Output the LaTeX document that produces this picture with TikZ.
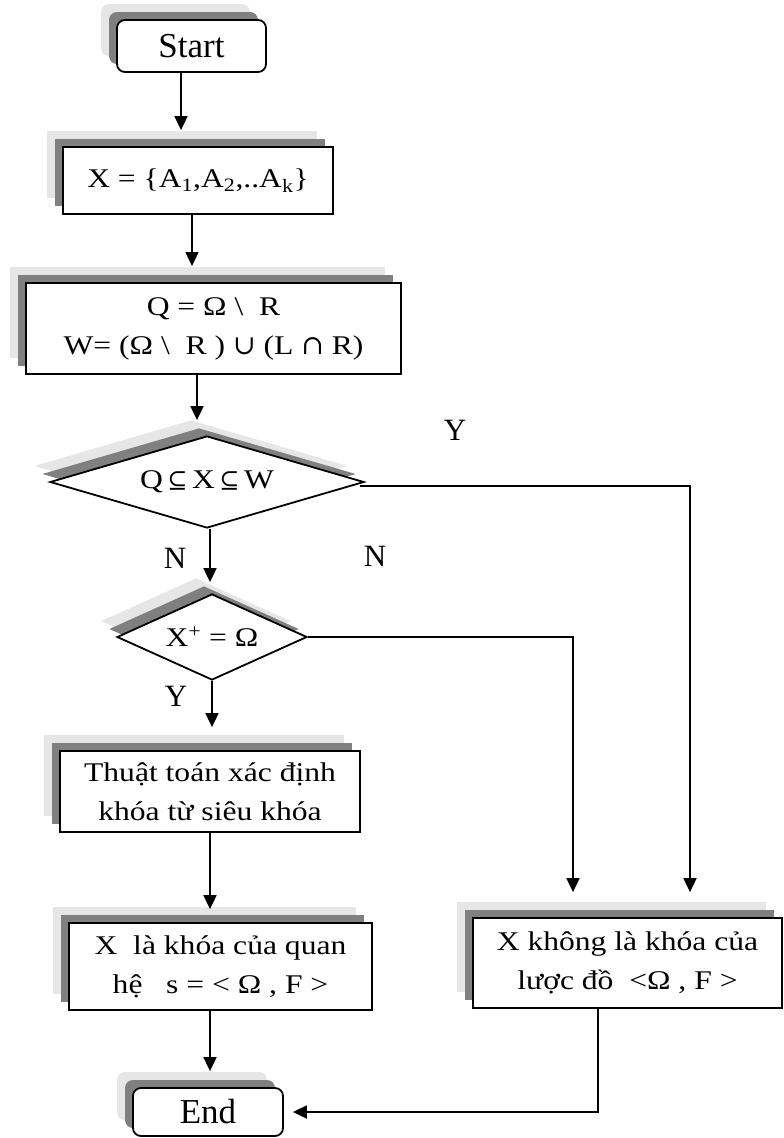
\documentclass[tikz,border=0pt]{standalone}
\usepackage{fontspec}
\setmainfont{Liberation Serif}[FakeStretch=1.17]
\newfontfamily\plainf{Liberation Serif}
\newfontfamily\symf{DejaVu Serif}
\usetikzlibrary{arrows.meta,shapes.geometric,shadows}
\definecolor{shlight}{HTML}{E6E6E6}
\definecolor{shdark}{HTML}{808080}
\newcommand{\sbs}{{\symf\fontsize{24}{30}\selectfont ⊆}}

\begin{document}
\begin{tikzpicture}[x=1pt,y=-1pt,line width=1.8pt,
  >={Triangle[length=14pt,width=13pt]},
  font=\fontsize{27}{39}\selectfont,
  sh/.style={copy shadow={shadow xshift=-16pt,shadow yshift=16pt,fill=shlight,draw=none},
             copy shadow={shadow xshift=-8pt,shadow yshift=8pt,fill=shdark,draw=none}},
  box/.style={draw,fill=white,sh,inner sep=0pt,align=center},
  term/.style={box,rounded corners=8pt,font=\plainf\fontsize{35}{40}\selectfont},
  dec/.style={draw,fill=white,sh,diamond,inner sep=0pt,aspect=3},
  lbl/.style={font=\plainf\fontsize{31}{36}\selectfont}]
  \useasboundingbox (0,0) rectangle (784,1138);
  \node[term,minimum width=149pt,minimum height=52pt] (start) at (191.5,46) {Start};
  \node[box,minimum width=270pt,minimum height=67pt] (xset) at (198,180.5) {X = \{A\textsubscript{1},A\textsubscript{2},..A\textsubscript{k}\}};
  \node[box,minimum width=375pt,minimum height=91pt] (qw) at (213.5,328.5) {Q = Ω \textbackslash\ \ R\\W= (Ω \textbackslash\ \ R ) {\symf ∪} (L {\symf ∩} R)};
  \node[dec,minimum width=314pt,minimum height=92pt] (d1) at (207,482) {Q\,\sbs\,X\,\sbs\,W};
  \node[dec,minimum width=190pt,minimum height=86pt] (d2) at (212,637) {X\textsuperscript{+} = Ω};
  \node[box,minimum width=300pt,minimum height=81pt] (algo) at (210,791.5) {Thuật toán xác định\\khóa từ siêu khóa};
  \node[box,minimum width=303pt,minimum height=87pt] (iskey) at (220.5,966.5) {X\ \ là khóa của quan\\hệ\ \ \ s = < Ω , F >};
  \node[box,minimum width=309pt,minimum height=90pt] (notkey) at (627.5,963) {X không là khóa của\\lược đồ\ \ <Ω , F >};
  \node[term,minimum width=150pt,minimum height=48pt] (stop) at (208,1112) {End};
  % branch labels
  \node[lbl] (y1) at (455,430) {Y};
  \node[lbl] (n1) at (175,558) {N};
  \node[lbl] (n2) at (375,556) {N};
  \node[lbl] (y2) at (176,696) {Y};
  \draw[->] ([xshift=-10.5pt]start.south) -- ([xshift=-17pt,yshift=16pt]xset.north);
  \draw[->] ([xshift=-6pt]xset.south) -- ([xshift=-21.5pt,yshift=16pt]qw.north);
  \draw[->] ([xshift=-16.5pt]qw.south) -- ([xshift=-10pt,yshift=15pt]d1.north);
  \draw[->] ([xshift=3pt]d1.south) -- ([xshift=-2pt,yshift=11pt]d2.north);
  \draw[->] (d2.south) -- ([xshift=2pt,yshift=23pt]algo.north);
  \draw[->] (algo.south) -- ([xshift=-10.5pt,yshift=13pt]iskey.north);
  \draw[->] ([xshift=-10.5pt]iskey.south) -- ([xshift=2pt,yshift=16pt]stop.north);
  \draw[->] ([xshift=-5pt,yshift=-4pt]d1.east) -| ([xshift=62.5pt,yshift=25pt]notkey.north);
  \draw[->] (d2.east) -| ([xshift=-54.5pt,yshift=25pt]notkey.north);
  \draw[->] ([xshift=-29.5pt]notkey.south) |- ([xshift=9pt]stop.east);
\end{tikzpicture}
\end{document}
